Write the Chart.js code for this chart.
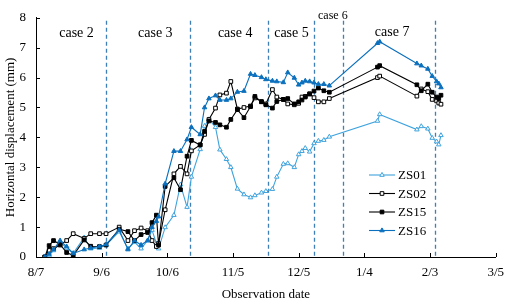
<!DOCTYPE html>
<html>
<head>
<meta charset="utf-8">
<script src="https://cdn.jsdelivr.net/npm/chart.js@4.4.0/dist/chart.umd.min.js"></script>
<style>
  html, body { margin: 0; padding: 0; background: #fff; }
</style>
</head>
<body>
<canvas id="myChart" width="512" height="302"></canvas>
<script>
/* days counted from 8/7 */
const dates = [4, 6, 8, 11, 14, 17, 22, 25, 29, 32,
               38, 42, 45, 48, 51, 53, 55, 56, 59, 63,
               66, 69, 71, 75, 77, 79, 82, 84, 87, 89,
               92, 95, 98, 100, 103, 105, 108, 110, 113, 115,
               118, 120, 121.5, 123, 125, 127, 129, 131.5, 134, 156,
               157, 174, 176, 179, 181, 183, 184, 185];

const zs01 = [0, 0.05, 0.22, 0.5, 0.3, 0.12, 0.65, 0.28, 0.3, 0.4,
              0.85, 0.28, 0.5, 0.28, 0.55, 0.9, 0.45, 0.28, 0.99, 1.4,
              2.42, 1.67, 2.68, 3.6, 4.38, 4.6, 4.34, 3.59, 3.27, 3.0,
              2.28, 2.09, 1.99, 2.06, 2.15, 2.2, 2.27, 2.68, 3.11, 3.13,
              3.0, 3.43, 3.54, 3.64, 3.52, 3.8, 3.88, 3.91, 4.02, 4.55,
              4.77, 4.26, 4.37, 4.29, 3.98, 3.86, 3.76, 4.07];

const zs02 = [0, 0.22, 0.28, 0.4, 0.55, 0.78, 0.62, 0.78, 0.78, 0.78,
              1.0, 0.55, 0.88, 0.97, 0.88, 0.55, 0.35, 0.45, 1.58, 2.78,
              3.03, 2.78, 3.55, 3.75, 4.1, 4.6, 4.98, 5.42, 5.48, 5.87,
              4.95, 5.0, 5.05, 5.32, 5.2, 5.12, 5.6, 5.35, 5.27, 5.12,
              5.09, 5.14, 5.35, 5.37, 5.46, 5.33, 5.19, 5.19, 5.3, 6.0,
              6.05, 5.38, 5.62, 5.53, 5.27, 5.22, 5.15, 5.11];

const zs15 = [0, 0.38, 0.55, 0.42, 0.15, 0.05, 0.57, 0.36, 0.35, 0.4,
              0.93, 0.85, 0.55, 0.75, 0.82, 1.15, 1.4, 0.4, 2.36, 2.65,
              2.25, 3.37, 3.9, 3.75, 4.2, 4.55, 4.5, 4.42, 4.34, 4.6,
              4.93, 4.66, 5.03, 5.37, 5.19, 5.09, 4.98, 5.2, 5.27, 5.3,
              5.12, 5.19, 5.25, 5.35, 5.45, 5.55, 5.65, 5.56, 5.51, 6.35,
              6.4, 5.76, 5.56, 5.78, 5.51, 5.35, 5.3, 5.41];

const zs16 = [0, 0.1, 0.25, 0.55, 0.35, 0.12, 0.25, 0.3, 0.35, 0.42,
              0.9, 0.25, 0.55, 0.4, 0.55, 1.0, 1.2, 1.35, 2.45, 3.54,
              3.54, 3.93, 4.34, 4.1, 5.0, 5.3, 5.4, 5.25, 5.25, 5.3,
              5.52, 5.55, 6.12, 6.08, 6.01, 5.94, 5.89, 5.87, 5.84, 6.17,
              5.99, 5.76, 5.83, 5.89, 5.87, 5.83, 5.78, 5.78, 5.73, 7.15,
              7.2, 6.47, 6.4, 6.29, 6.05, 5.87, 5.8, 5.67];

const xLabels = ['8/7', '9/6', '10/6', '11/5', '12/5', '1/4', '2/3', '3/5'];

/* boundaries between load cases (days from 8/7) and their names */
const caseLines = [32, 70.3, 106.2, 127.1, 140.3, 182.1];
const caseNames = ['case 2', 'case 3', 'case 4', 'case 5', 'case 6', 'case 7'];
const caseNameDays = [18.5, 54.5, 91, 116.7, 135.6, 162.7];
const caseNameLevels = [7.47, 7.47, 7.47, 7.47, 8.05, 7.53];

const serif = 'Liberation Serif';
const lightBlue = '#3fa3dd';
const darkBlue = '#0b70bd';
const caseColor = '#3f7fb5';

function pts(vals) {
  return vals.map((v, i) => ({x: dates[i], y: v}));
}

const extras = {
  id: 'extras',
  beforeDatasetsDraw(chart) {
    const {ctx, chartArea, scales: {x, y}} = chart;
    ctx.save();
    ctx.strokeStyle = caseColor;
    ctx.lineWidth = 1.3;
    ctx.setLineDash([4, 3]);
    caseLines.forEach(d => {
      const px = Math.round(x.getPixelForValue(d)) + 0.5;
      ctx.beginPath();
      ctx.moveTo(px, y.getPixelForValue(7.9));
      ctx.lineTo(px, chartArea.bottom);
      ctx.stroke();
    });
    ctx.restore();
  },
  afterDraw(chart) {
    const {ctx, chartArea, scales: {x, y}} = chart;
    ctx.save();
    // inward tick marks
    ctx.strokeStyle = '#000';
    ctx.lineWidth = 1;
    y.ticks.forEach(t => {
      const py = Math.round(y.getPixelForValue(t.value)) + 0.5;
      ctx.beginPath(); ctx.moveTo(chartArea.left, py); ctx.lineTo(chartArea.left + 4, py); ctx.stroke();
    });
    x.ticks.forEach(t => {
      const px = Math.round(x.getPixelForValue(t.value)) + 0.5;
      ctx.beginPath(); ctx.moveTo(px, chartArea.bottom); ctx.lineTo(px, chartArea.bottom - 4); ctx.stroke();
    });
    // case names
    ctx.fillStyle = '#000';
    ctx.textAlign = 'center';
    ctx.textBaseline = 'middle';
    caseNames.forEach((name, i) => {
      ctx.font = (i === 4 ? '12px ' : '14px ') + serif;
      ctx.fillText(name, x.getPixelForValue(caseNameDays[i]), y.getPixelForValue(caseNameLevels[i]));
    });
    // legend
    ctx.font = '13px ' + serif;
    ctx.textAlign = 'left';
    chart.data.datasets.forEach((ds, i) => {
      const ly = 175 + i * 18.5;
      ctx.strokeStyle = ds.borderColor;
      ctx.lineWidth = ds.borderWidth;
      ctx.beginPath(); ctx.moveTo(369, ly); ctx.lineTo(395, ly); ctx.stroke();
      ctx.fillStyle = ds.pointBackgroundColor;
      ctx.strokeStyle = ds.borderColor;
      ctx.lineWidth = 1;
      Chart.helpers.drawPoint(ctx, {pointStyle: ds.pointStyle, radius: ds.pointRadius, rotation: 0, borderWidth: 1}, 382, ly);
      ctx.fillStyle = '#000';
      ctx.fillText(ds.label, 398, ly + 1);
    });
    ctx.restore();
  }
};

const ctx = document.getElementById('myChart').getContext('2d');
const myChart = new Chart(ctx, {
  type: 'scatter',
  data: {
    datasets: [
      {label: 'ZS01', data: pts(zs01), showLine: true, borderColor: lightBlue, borderWidth: 1.1,
       pointStyle: 'triangle', pointRadius: 2.6, pointBackgroundColor: '#fff', pointBorderWidth: 1, order: 3},
      {label: 'ZS02', data: pts(zs02), showLine: true, borderColor: '#000', borderWidth: 1.1,
       pointStyle: 'rect', pointRadius: 2.6, pointBackgroundColor: '#fff', pointBorderWidth: 1, order: 2},
      {label: 'ZS15', data: pts(zs15), showLine: true, borderColor: '#000', borderWidth: 1.1,
       pointStyle: 'rect', pointRadius: 2.6, pointBackgroundColor: '#000', pointBorderWidth: 1, order: 1},
      {label: 'ZS16', data: pts(zs16), showLine: true, borderColor: darkBlue, borderWidth: 1.1,
       pointStyle: 'triangle', pointRadius: 2.6, pointBackgroundColor: darkBlue, pointBorderWidth: 1, order: 0}
    ]
  },
  options: {
    responsive: false,
    animation: false,
    devicePixelRatio: 1,
    layout: {padding: {top: 7, right: 10, left: 0, bottom: 0}},
    plugins: {legend: {display: false}, tooltip: {enabled: false}},
    scales: {
      x: {
        type: 'linear', min: 0, max: 210,
        afterFit: s => { s.height = 45; },
        grid: {display: false, drawTicks: false},
        border: {display: true, color: '#000', width: 1},
        ticks: {
          stepSize: 30, padding: 8, color: '#000', font: {family: serif, size: 13},
          callback: (v) => xLabels[Math.round(v / 30)]
        },
        title: {display: true, text: 'Observation date', color: '#000', font: {family: serif, size: 13},
                padding: {top: 0, bottom: 0}}
      },
      y: {
        min: 0, max: 8,
        afterFit: s => { s.width = 36; },
        grid: {display: false, drawTicks: false},
        border: {display: true, color: '#000', width: 1},
        ticks: {stepSize: 1, padding: 10, color: '#000', font: {family: serif, size: 13}},
        title: {display: true, text: 'Horizontal displacement (mm)', color: '#000', font: {family: serif, size: 13},
                padding: {top: 3, bottom: 0}}
      }
    }
  },
  plugins: [extras]
});
</script>
</body>
</html>
